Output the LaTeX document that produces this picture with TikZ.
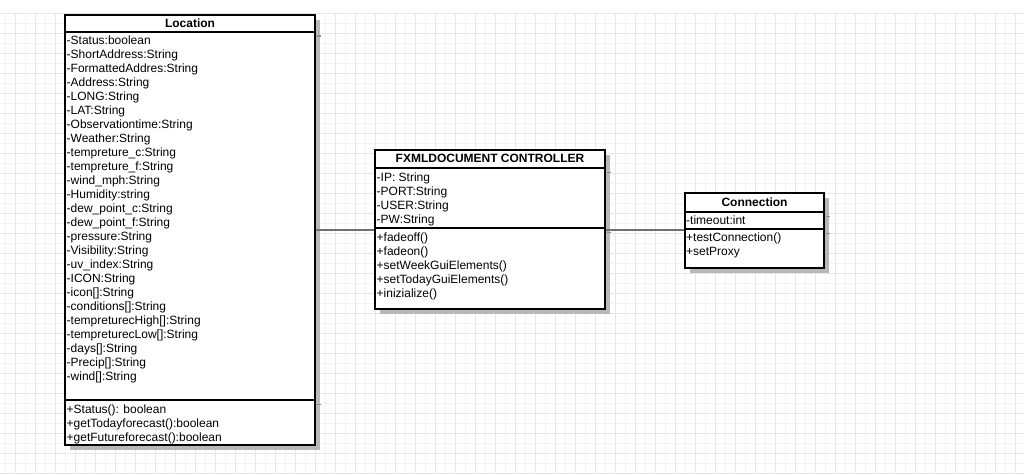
\documentclass[tikz,border=0pt]{standalone}
\usepackage{fontspec}
\setmainfont{Liberation Sans}
\usetikzlibrary{shadows}
\definecolor{gridlight}{RGB}{242,242,252}
\definecolor{griddark}{RGB}{229,229,248}
\definecolor{shadowfill}{RGB}{184,184,184}
\definecolor{shadowline}{RGB}{140,140,140}
\definecolor{linkgray}{RGB}{112,112,112}
\tikzset{
  umlbox/.style={draw=black, line width=2pt, fill=white, inner sep=0pt,
    drop shadow={shadow xshift=5pt, shadow yshift=-4.5pt, fill=shadowfill, opacity=1}},
  divider/.style={black, line width=2pt},
  shadowtick/.style={shadowline, line width=1.3pt},
  member/.style={anchor=base west, inner sep=0pt, font=\fontsize{12}{14}\selectfont},
  title/.style={anchor=base, inner sep=0pt, font=\fontsize{12}{14}\selectfont\bfseries},
  link/.style={linkgray, line width=2pt}
}
\begin{document}
\begin{tikzpicture}[x=1pt, y=-1pt]
\useasboundingbox (0,0) rectangle (1024,474);
\fill[white] (0,0) rectangle (1024,474);

% background grid
\foreach \gx in {5.5,25.5,...,1015.5}
  \draw[gridlight, line width=1pt] (\gx,13) -- (\gx,474);
\foreach \gx in {15.5,35.5,...,1015.5}
  \draw[griddark, line width=1pt] (\gx,13) -- (\gx,474);
\foreach \gy in {23.5,43.5,...,473.5}
  \draw[gridlight, line width=1pt] (0,\gy) -- (1024,\gy);
\foreach \gy in {13.5,33.5,...,473.5}
  \draw[griddark, line width=1pt] (0,\gy) -- (1024,\gy);

% class boxes
\node[umlbox, minimum width=250pt, minimum height=430pt] (loc) at (190,230) {};
\node[umlbox, minimum width=230pt, minimum height=159.3pt] (fxml) at (490,229.65) {};
\node[umlbox, minimum width=139pt, minimum height=75pt] (conn) at (754.5,230.8) {};

% compartment dividers
\draw[divider] (loc.west |- 0,31.5) -- (loc.east |- 0,31.5);
\draw[divider] (loc.west |- 0,400) -- (loc.east |- 0,400);
\draw[divider] (fxml.west |- 0,167.7) -- (fxml.east |- 0,167.7);
\draw[divider] (fxml.west |- 0,228.3) -- (fxml.east |- 0,228.3);
\draw[divider] (conn.west |- 0,212.3) -- (conn.east |- 0,212.3);
\draw[divider] (conn.west |- 0,229) -- (conn.east |- 0,229);

% dividers seen in the shadows
\draw[shadowtick] ([xshift=1pt]loc.east |- 0,36) -- ++(4,0);
\draw[shadowtick] ([xshift=1pt]loc.east |- 0,404.5) -- ++(4,0);
\draw[shadowtick] ([xshift=1pt]fxml.east |- 0,172.2) -- ++(4,0);
\draw[shadowtick] ([xshift=1pt]fxml.east |- 0,232.8) -- ++(4,0);
\draw[shadowtick] ([xshift=1pt]conn.east |- 0,216.8) -- ++(4,0);
\draw[shadowtick] ([xshift=1pt]conn.east |- 0,233.5) -- ++(4,0);

% Location
\node[title] (loct) at (190,27) {Location};
\foreach \t [count=\i] in {
  -Status:boolean, -ShortAddress:String, -FormattedAddres:String,
  -Address:String, -LONG:String, -LAT:String, -Observationtime:String,
  -Weather:String, -tempreture\_c:String, -tempreture\_f:String,
  -wind\_mph:String, -Humidity:string, -dew\_point\_c:String,
  -dew\_point\_f:String, -pressure:String, -Visibility:String,
  -uv\_index:String, -ICON:String, -icon[]:String, -conditions[]:String,
  -tempreturecHigh[]:String, -tempreturecLow[]:String, -days[]:String,
  -Precip[]:String, -wind[]:String}
  \node[member] (loca\i) at (66.5,{44.5+14*(\i-1)}) {\t};
\foreach \t [count=\i] in {
  +Status(): boolean, +getTodayforecast():boolean, +getFutureforecast():boolean}
  \node[member] (locm\i) at (66.5,{413.3+14*(\i-1)}) {\t};

% FXMLDOCUMENT CONTROLLER
\node[title] (fxmlt) at (490,162.7) {FXMLDOCUMENT CONTROLLER};
\foreach \t [count=\i] in {-IP: String, -PORT:String, -USER:String, -PW:String}
  \node[member] (fxmla\i) at (376.5,{181+14*(\i-1)}) {\t};
\foreach \t [count=\i] in {
  +fadeoff(), +fadeon(), +setWeekGuiElements(), +setTodayGuiElements(), +inizialize()}
  \node[member] (fxmlm\i) at (376.5,{241.5+14*(\i-1)}) {\t};

% Connection
\node[title] (connt) at (754.5,206) {Connection};
\node[member] (conna1) at (686,224) {-timeout:int};
\node[member] (connm1) at (686,241.5) {+testConnection()};
\node[member] (connm2) at (686,255) {+setProxy};

% associations
\draw[link] (loc.east |- fxml.west) -- (fxml.west);
\draw[link] (fxml.east) -- (fxml.east -| conn.west);
\end{tikzpicture}
\end{document}
